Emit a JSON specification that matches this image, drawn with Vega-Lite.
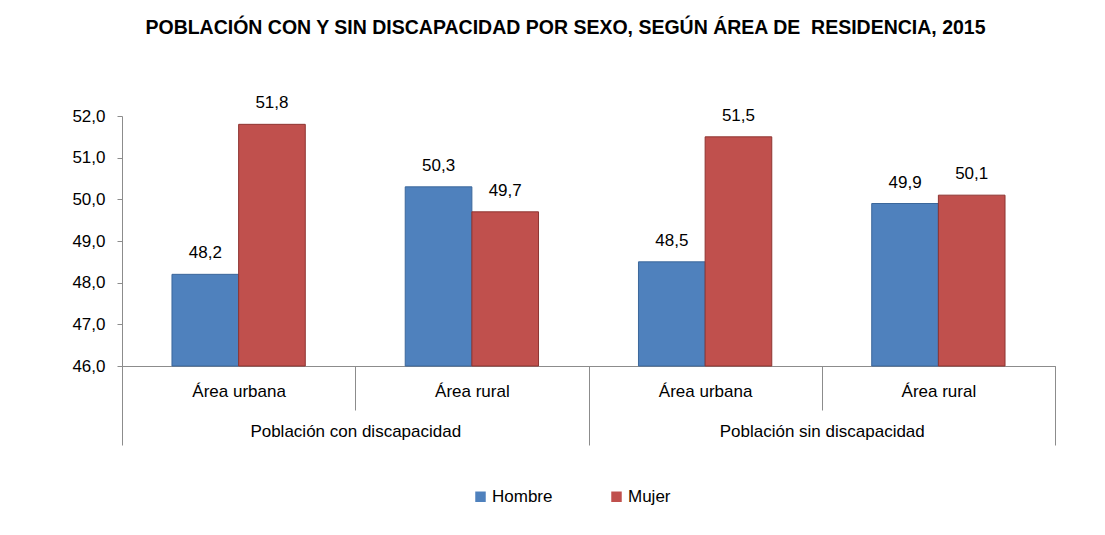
{
  "$schema": "https://vega.github.io/schema/vega-lite/v6.json",
  "autosize": {"type": "none"},
  "width": 933,
  "height": 250,
  "padding": {"left": 122, "top": 116, "right": 50, "bottom": 169},
  "title": {
    "text": "POBLACIÓN CON Y SIN DISCAPACIDAD POR SEXO, SEGÚN ÁREA DE \u00a0RESIDENCIA, 2015",
    "font": "Liberation Sans",
    "fontSize": 19.5,
    "fontWeight": "bold",
    "color": "#000000",
    "anchor": "middle",
    "dx": -23,
    "offset": 56
  },
  "config": {
    "font": "Liberation Sans",
    "locale": {"number": {"decimal": ",", "thousands": ".", "grouping": [3], "currency": ["", " €"]}},
    "view": {"stroke": null},
    "axis": {"labelFont": "Liberation Sans", "labelFontSize": 17, "labelColor": "#000000", "domainColor": "#8c8c8c", "tickColor": "#8c8c8c", "grid": false, "title": null, "labelLimit": 0}
  },
  "data": {
    "values": [
      {"grupo": "Población con discapacidad", "cat": "con|Área urbana", "sexo": "Hombre", "valor": 48.2},
      {"grupo": "Población con discapacidad", "cat": "con|Área urbana", "sexo": "Mujer", "valor": 51.8},
      {"grupo": "Población con discapacidad", "cat": "con|Área rural", "sexo": "Hombre", "valor": 50.3},
      {"grupo": "Población con discapacidad", "cat": "con|Área rural", "sexo": "Mujer", "valor": 49.7},
      {"grupo": "Población sin discapacidad", "cat": "sin|Área urbana", "sexo": "Hombre", "valor": 48.5},
      {"grupo": "Población sin discapacidad", "cat": "sin|Área urbana", "sexo": "Mujer", "valor": 51.5},
      {"grupo": "Población sin discapacidad", "cat": "sin|Área rural", "sexo": "Hombre", "valor": 49.9},
      {"grupo": "Población sin discapacidad", "cat": "sin|Área rural", "sexo": "Mujer", "valor": 50.1}
    ]
  },
  "layer": [
    {
      "encoding": {
        "x": {
          "field": "cat", "type": "nominal",
          "sort": ["con|Área urbana", "con|Área rural", "sin|Área urbana", "sin|Área rural"],
          "scale": {"paddingInner": 0, "paddingOuter": 0},
          "axis": {"orient": "bottom", "tickBand": "extent", "tickSize": 44, "labelPadding": -27, "labelAngle": 0, "labelExpr": "split(datum.label, '|')[1]", "labelBaseline": "top"}
        },
        "xOffset": {"field": "sexo", "type": "nominal", "scale": {"paddingInner": 0, "paddingOuter": 0.75}},
        "y": {
          "field": "valor", "type": "quantitative",
          "scale": {"domain": [46, 52], "zero": false, "nice": false},
          "axis": {"values": [46, 47, 48, 49, 50, 51, 52], "format": ".1f", "tickSize": 5, "labelPadding": 12}
        }
      },
      "layer": [
        {
          "mark": {"type": "bar", "strokeWidth": 1},
          "encoding": {
            "y2": {"datum": 46},
            "color": {
              "field": "sexo", "type": "nominal",
              "scale": {"domain": ["Hombre", "Mujer"], "range": ["#4f81bd", "#c0504d"]},
              "legend": {"orient": "none", "legendX": 350, "legendY": 372, "direction": "horizontal", "title": null, "symbolType": "square", "symbolSize": 110, "symbolStrokeWidth": 0, "labelFontSize": 17, "labelColor": "#000000", "columnPadding": 55, "labelOffset": 3}
            },
            "stroke": {
              "field": "sexo", "type": "nominal",
              "scale": {"domain": ["Hombre", "Mujer"], "range": ["#3b679b", "#8e3431"]},
              "legend": null
            }
          }
        },
        {
          "mark": {"type": "text", "fontSize": 17, "color": "#000000", "baseline": "alphabetic", "dy": -16},
          "encoding": {"text": {"field": "valor", "type": "quantitative", "format": ".1f"}}
        }
      ]
    },
    {
      "mark": {"type": "rule", "opacity": 0},
      "encoding": {
        "x": {
          "field": "grupo", "type": "nominal",
          "scale": {"paddingInner": 0, "paddingOuter": 0},
          "axis": {"orient": "bottom", "tickBand": "extent", "tickSize": 79, "labelPadding": -22, "labelAngle": 0, "labelBaseline": "top"}
        }
      }
    }
  ],
  "resolve": {"scale": {"x": "independent"}, "axis": {"x": "independent"}}
}
